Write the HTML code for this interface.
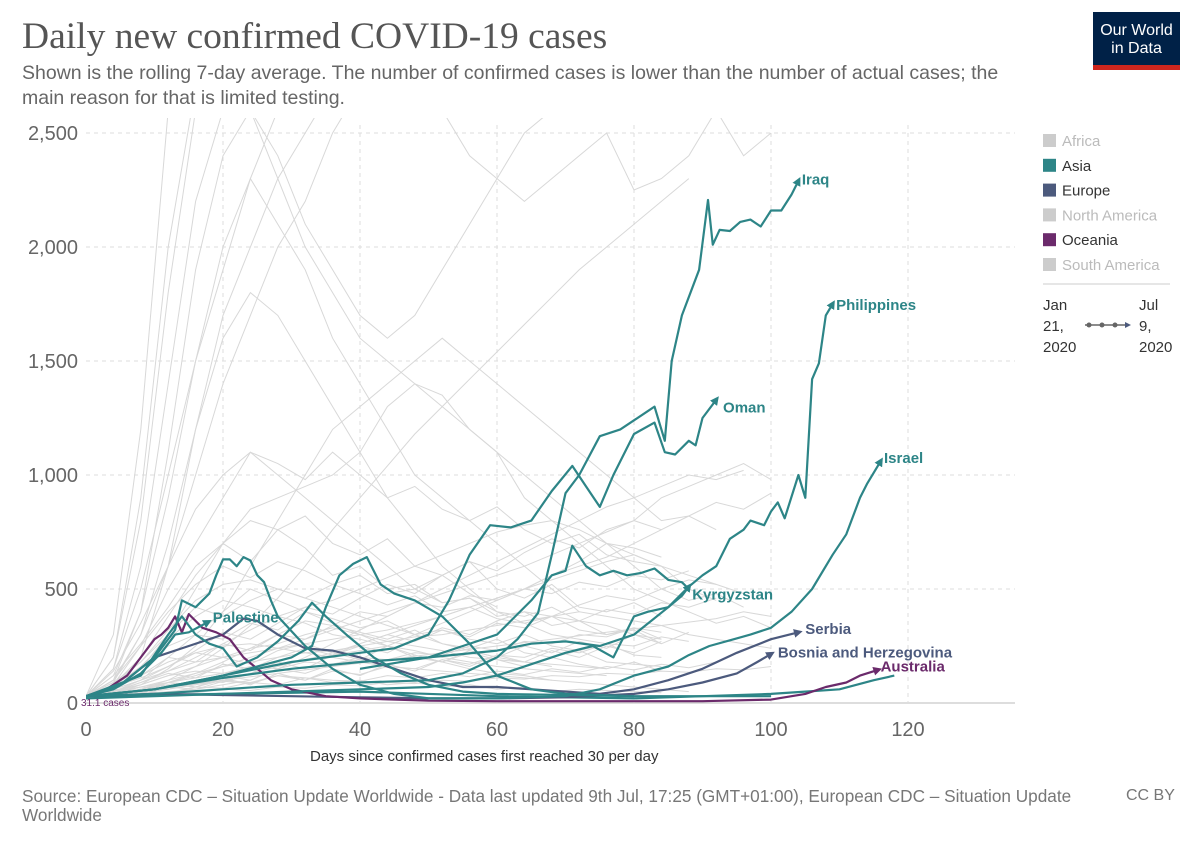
<!DOCTYPE html>
<html><head><meta charset="utf-8"><style>
body{margin:0;background:#fff;font-family:"Liberation Sans",sans-serif;}
#wrap{position:relative;width:1200px;height:847px;overflow:hidden;}
.t{position:absolute;}
</style></head><body>
<div id="wrap">
<div class="t" style="left:22px;top:15px;font-family:'Liberation Serif',serif;font-size:37.5px;color:#555;">Daily new confirmed COVID-19 cases</div>
<div class="t" style="left:22px;top:61px;width:1000px;font-size:19.5px;line-height:25px;color:#666;">Shown is the rolling 7-day average. The number of confirmed cases is lower than the number of actual cases; the main reason for that is limited testing.</div>
<div class="t" style="left:1093px;top:12px;width:87px;height:58px;background:#002147;color:#fff;font-size:16px;line-height:18px;text-align:center;box-sizing:border-box;padding-top:10px;border-bottom:5px solid #ce261e;">Our World<br>in Data</div>
<svg id="chart" width="1200" height="847" style="position:absolute;left:0;top:0"></svg>
<div class="t" style="left:310px;top:748px;font-size:15px;color:#333;">Days since confirmed cases first reached 30 per day</div>
<div class="t" style="left:22px;top:787px;width:1092px;font-size:17.2px;line-height:19px;color:#777;">Source: European CDC – Situation Update Worldwide - Data last updated 9th Jul, 17:25 (GMT+01:00), European CDC – Situation Update Worldwide</div>
<div class="t" style="left:1126px;top:787px;font-size:16px;color:#777;">CC BY</div>
</div>
<script>
const yTicks=[0,500,1000,1500,2000,2500];
const yTickLabels=["0","500","1,000","1,500","2,000","2,500"];
const xTicks=[0,20,40,60,80,100,120];
const legendNames=["Africa","Asia","Europe","North America","Oceania","South America"];
const legendColors=["#ccc","#2d8587","#4c5a7d","#ccc","#6b2a6b","#ccc"];
const legendText=["#bbb","#333","#333","#bbb","#333","#bbb"];

const iraqDays=[0,10,20,30,40,50,55,60,63,66,68,70,72,75,78,80,82,83,84.5,85.5,87,89.5,90.8,91.5,92.5,94,95.5,97,98.5,100,101.5,103,104];
const iraqVals=[30,40,60,80,90,100,130,200,280,395,650,920,1000,1170,1200,1240,1280,1300,1150,1500,1700,1900,2206,2010,2075,2070,2110,2120,2090,2160,2160,2230,2290];
const omanDays=[0,10,20,30,40,45,50,53,56,59,62,65,68,71,73,75,77,80,83,84.5,86,88,89,90,92];
const omanVals=[30,60,120,180,220,240,300,450,650,780,770,800,930,1040,950,860,1000,1180,1230,1100,1090,1150,1130,1250,1330];
const philDays=[0,10,20,30,40,50,60,65,70,75,80,85,88,90,92,94,96,97,99,100,101,102,104,105,106,107,108,109];
const philVals=[30,60,110,150,180,200,230,260,270,250,300,420,510,560,600,720,760,800,780,840,880,810,1000,900,1420,1490,1700,1750];
const israelDays=[0,5,10,13,14,16,18,19,20,21,22,23,24,25,26,27,28,32,36,40,45,50,60,70,75,80,85,88,91,94,97,100,103,106,109,111,113,114,116];
const israelVals=[30,80,200,320,450,420,480,560,630,630,600,640,625,560,530,450,380,250,150,80,40,20,20,30,60,120,160,210,250,275,300,330,400,500,650,740,900,960,1060];
const kyrDays=[0,10,20,30,40,50,55,60,65,70,74,77,80,82,85,87,88];
const kyrVals=[20,30,40,50,60,70,90,120,170,220,250,200,380,400,420,470,510];
const kyr2Days=[40,50,55,60,65,68,70,71,73,75,77,79,81,83,85,87,88];
const kyr2Vals=[150,200,250,300,450,560,580,690,600,560,580,560,570,590,540,530,500];
const palDays=[0,4,8,11,13,15,17.8];
const palVals=[30,60,130,220,300,310,355];
const teal1Days=[0,10,20,30,33,35,37,39,41,43,45,48,52,56,60,65,70,80,90,100];
const teal1Vals=[30,60,120,200,250,420,560,610,640,520,480,450,380,260,120,60,40,30,30,30];
const teal2Days=[0,8,12,14,16,18,20,22,25,28,31,33,35,38,42,46,50,55,60,70,80];
const teal2Vals=[30,120,300,380,300,260,240,160,200,270,360,440,380,300,200,130,80,50,40,35,30];
const serbiaDays=[0,5,10,15,20,23,25,28,32,36,40,45,50,55,60,65,70,75,80,85,90,95,100,104];
const serbiaVals=[30,80,200,250,300,370,360,300,240,230,200,150,100,70,70,60,50,40,60,100,150,220,280,310];
const bosniaDays=[0,10,20,30,40,50,60,70,80,85,90,95,98,100];
const bosniaVals=[30,40,35,30,25,20,20,25,40,60,90,130,180,215];
const austDays=[0,3,6,8,10,11,12,13,14,15,17,19,21,23,25,27,30,35,40,50,60,70,80,90,100,105,108,111,113,115.6];
const austVals=[30,60,120,200,280,300,330,380,310,390,330,310,280,200,150,100,60,30,20,10,8,8,8,8,15,40,70,90,120,145];
const teal3Days=[0,20,40,60,80,90,100,105,110,115,118];
const teal3Vals=[30,40,50,30,20,30,40,50,60,100,120];

const greyStep=4;
const g1=[30,300,1200,2600];
const g2=[30,200,900,2000,2700];
const g3=[30,150,600,1400,2200,2600];
const g4=[30,120,400,900,1500,1900,2300,2600];
const g5=[30,100,300,600,1000,1400,1700,2000,2200,2500,2700];
const g6=[30,80,250,500,700,900,1100,1000,900,800,700,600,500,560,480,420];
const g7=[30,60,150,300,500,700,850,900,950,1000,1100,1300,1400,1350,1200,1100,900,800,700,600,500,450,400,350,380,330];
const g8=[30,50,100,200,300,400,500,450,400,350,300,250,200,180,150,130,120,100];
const g9=[30,200,800,1800,2600,2800,2600,2300,2000,1800,1600,1500,1400,1300,1200,1100,1000,900,800,700,650,600,500,450];
const g10=[30,100,400,1100,1900,2400,2600,2400,2100,1900,1700,1600,1700,1900,2100,2300,2500,2600,2600,2650,2700,2700,2750,2800,2900,2950,3000,3000,3000,3000,3000,3000];
const g11=[30,60,200,600,1200,1700,2000,2300,2500,2700,2800,2900,2800,2600,2400,2300,2200,2300,2400,2500,2250,2300,2400,2600,2400,2500];
const g12=[30,40,80,150,250,400,600,800,1000,1200,1300,1400,1500,1600,1500,1400,1300,1200,1100,1000,900,800,820,760];
const g13=[30,50,90,140,200,260,320,380,420,450,500,550,600,650,700,750,780,800,760,700,600,500,450,480,420];
const g14=[30,40,60,90,120,160,200,240,280,320,360,400,440,480,520,560,600,650,700,750,800,900,950,1000,1050,980];
const g15=[30,60,120,180,220,250,260,240,220,200,180,160,150,140,130,120,110,100,90,80,70,60,50];
const g16=[30,45,70,100,130,160,180,200,220,230,250,270,290,300,320,340,360,380,400,380,360,340,300,280,260,240];
const g17=[30,35,45,60,80,100,130,160,190,220,260,300,340,380,420,460,500,540,580,620,650,600,560,520,480];
const g18=[30,70,160,280,380,450,420,380,350,300,280,250,230,200,180,160,150,140,130,120];
const g19=[30,45,40,70,60,95,85,120,100,140,125,160,150,190,170,210,200,240,220,260,250,290,270];
const g20=[30,50,80,120,160,200,240,260,300,330,300,270,250,230,200,190,180,170,160,150];
const g21=[30,50,40,90,80,120,100,150,130,170,190,160,210,180,230,200,250,220,270,240,300,260,310];
const g22=[30,60,100,140,180,200,220,240,260,280,300,320,350,380,420,460,500,560,600,640,700,760,820,880,850,920];
const g23=[30,90,300,700,1200,1600,1800,1700,1500,1300,1100,900,750,600,500,400,350,300,280,260];
const g24=[30,150,500,1000,1500,2000,2300,2100,1900,1600,1400,1200,1000,900,800,700,600,500,400];
const g25=[30,50,70,90,110,130,150,170,190,210,230,250,300,350,400,450,500,560,620,700,680,640];
const g26=[30,60,50,90,70,110,80,130,100,150,120,170,140,190,160,210,180,230,200,250,220,270];
const g27=[30,40,55,70,85,100,115,130,145,160,175,190,205,220,235,250,265,280,295,310,325,340,355,370,400,380];
const g28=[30,80,180,320,450,520,540,500,460,420,380,340,300,260,230,200,180,160];
const g29=[30,30,40,50,60,80,100,150,200,260,320,380,440,500,560,620,680,740,800,860,900,950,1000,980,1020];
const g30=[30,40,60,100,160,240,340,460,600,760,900,1040,1180,1300,1420,1540,1660,1780,1900,2000,2100,2200,2300];
const g31=[30,80,150,250,300,280,350,320,400,370,330,360,300,320,280,260,300,250,230,260,210,200];
const g32=[30,60,120,200,180,260,230,300,280,340,310,280,320,260,240,280,220,200,230,180,170,160];
const g33=[30,70,110,160,220,200,170,230,260,220,190,250,210,180,220,190,160,200,170,150,180,140];
const g34=[30,50,90,130,110,170,150,200,240,210,260,300,270,320,290,350,330,380,360,410,390,440,420,460];
const g35=[30,40,70,60,100,90,130,180,150,210,250,220,280,330,300,360,400,380,430,470,450,500,540,520];
const g36=[30,90,180,300,420,380,450,500,460,520,480,430,470,400,420,370,350,380,320,300,330,280];
const g37=[30,100,250,400,520,600,550,620,580,520,560,480,500,440,460,400,380,420,360,340,300,280];
const g38=[30,35,50,45,70,65,90,80,110,100,95,120,110,130,115,140,125,150,135,160,145,170,155,180];
const g39=[30,55,80,120,140,130,160,150,180,170,200,190,220,210,250,230,270,260,300,290,330,310];
const g40=[30,40,60,80,70,100,90,120,110,90,100,80,90,70,80,60,70,50,60,55,50,45];
const g41=[30,120,260,420,600,700,800,760,820,700,650,720,600,560,620,500,460,520,420,400,440,380];
const g42=[30,140,350,600,850,1000,1100,1050,980,1100,1000,900,950,850,800,860,760,700,740,650,620,600];
const g43=[30,45,60,90,130,180,240,300,360,340,400,380,440,420,470,450,500,480,530,510,560,540,580];
const g44=[30,60,100,160,230,310,280,350,420,390,460,520,480,560,620,580,660,720,680,760,800,760];
const g45=[30,35,40,50,45,60,55,70,65,80,75,90,85,100,95,110,105,120,115,130,125,140,135,150,145,160];
const g46=[30,80,200,380,560,700,620,760,680,560,600,500,520,440,460,380,400,340,360,300,320,260];
const greySeries=[g1,g2,g3,g4,g5,g6,g7,g8,g9,g10,g11,g12,g13,g14,g15,g16,g17,g18,g19,g20,g21,g22,g23,g24,g25,g26,g27,g28,g29,g30,g31,g32,g33,g34,g35,g36,g37,g38,g39,g40,g41,g42,g43,g44,g45,g46];

const X0=86, PXD=6.85, Y0=703, PXV=0.228;
const xs=d=>X0+d*PXD;
const ys=v=>Y0-v*PXV;
const NS="http://www.w3.org/2000/svg";
const svg=document.getElementById('chart');
function mk(tag,attrs,parent){const e=document.createElementNS(NS,tag);for(const k in attrs)e.setAttribute(k,attrs[k]);(parent||svg).appendChild(e);return e;}

const defs=mk('defs',{});
const cp=mk('clipPath',{id:'plotclip'},defs);
mk('rect',{x:86,y:118,width:930,height:600},cp);
const arrowColors={teal:"#2d8587",slate:"#4c5a7d",purple:"#6b2a6b",grey:"#ccc"};
for(const k in arrowColors){const m=mk('marker',{id:'arr-'+k,viewBox:'0 0 10 10',refX:'5',refY:'5',markerWidth:'4',markerHeight:'4',orient:'auto'},defs);mk('path',{d:'M0,0 L10,5 L0,10 z',fill:arrowColors[k]},m);}

yTicks.forEach((v,i)=>{
  const g=mk('line',{x1:86,x2:1015,y1:ys(v),y2:ys(v),stroke:v===0?'#bbb':'#ddd','stroke-dasharray':v===0?'':'4,4'});
  
  
  const t=mk('text',{x:78,y:ys(v)+7,'text-anchor':'end','font-size':20,fill:'#666'});
  t.textContent=yTickLabels[i];
  
  
});
xTicks.forEach(d=>{
  if(d>0){const g=mk('line',{x1:xs(d),x2:xs(d),y1:125,y2:703,stroke:'#ddd','stroke-dasharray':'4,4'});
  
  }
  const t=mk('text',{x:xs(d),y:736,'text-anchor':'middle','font-size':20,fill:'#666'});
  t.textContent=String(d);
  
  
});

const plot=mk('g',{'clip-path':'url(#plotclip)'});
greySeries.forEach(s=>{
  const pts=s.map((v,i)=>xs(i*greyStep).toFixed(1)+','+ys(v).toFixed(1)).join(' ');
  const p=mk('polyline',{points:pts,fill:'none',stroke:'#d8d8d8','stroke-width':1},plot);
  
  
});
function series(days,vals,color,key,name,arrow){
  const pts=days.map((d,i)=>xs(d).toFixed(1)+','+ys(vals[i]).toFixed(1)).join(' ');
  const a={points:pts,fill:'none',stroke:color,'stroke-width':2.2,'stroke-linejoin':'round'};
  if(arrow)a['marker-end']='url(#arr-'+key+')';
  const p=mk('polyline',a,plot);
  
  
}
const T="#2d8587",S="#4c5a7d",P="#6b2a6b";
series(teal3Days,teal3Vals,T,'teal','asia-line-low',false);
series(bosniaDays,bosniaVals,S,'slate','bosnia-line',true);
series(serbiaDays,serbiaVals,S,'slate','serbia-line',true);
series(austDays,austVals,P,'purple','australia-line',true);
series(teal1Days,teal1Vals,T,'teal','asia-line-a',false);
series(teal2Days,teal2Vals,T,'teal','asia-line-b',false);
series(palDays,palVals,T,'teal','palestine-line',true);
series(kyr2Days,kyr2Vals,T,'teal','asia-line-c',false);
series(kyrDays,kyrVals,T,'teal','kyrgyzstan-line',true);
series(israelDays,israelVals,T,'teal','israel-line',true);
series(philDays,philVals,T,'teal','philippines-line',true);
series(omanDays,omanVals,T,'teal','oman-line',true);
series(iraqDays,iraqVals,T,'teal','iraq-line',true);

const labels=[["Iraq",104.5,2300,T,'iraq-label'],["Philippines",109.5,1750,T,'philippines-label'],["Oman",93,1300,T,'oman-label'],["Israel",116.5,1080,T,'israel-label'],["Kyrgyzstan",88.5,480,T,'kyrgyzstan-label'],["Palestine",18.5,380,T,'palestine-label'],["Serbia",105,330,S,'serbia-label'],["Bosnia and Herzegovina",101,225,S,'bosnia-label'],["Australia",116,165,P,'australia-label']];
labels.forEach(l=>{
  const t=mk('text',{x:xs(l[1]),y:ys(l[2])+6,'font-size':15,'font-weight':'bold',fill:l[3]});
  t.textContent=l[0];
  
  
});
const c=mk('text',{x:81,y:706,'font-size':10,fill:P});
c.textContent="31.1 cases";



legendNames.forEach((n,i)=>{
  const y=141+i*24.8;
  const r=mk('rect',{x:1043,y:y-7,width:13,height:13,fill:legendColors[i]});
  
  
  const t=mk('text',{x:1062,y:y+5,'font-size':15,fill:legendText[i]});
  t.textContent=n;
  
  
});
const sep=mk('line',{x1:1043,x2:1170,y1:284,y2:284,stroke:'#ccc'});


[["Jan",1043,310],["21,",1043,331],["2020",1043,352],["Jul",1139,310],["9,",1139,331],["2020",1139,352]].forEach(a=>{
  const t=mk('text',{x:a[1],y:a[2],'font-size':15,fill:'#333'});
  t.textContent=a[0];
  
  
});
const tl=mk('line',{x1:1085,x2:1128,y1:325,y2:325,stroke:'#666','stroke-width':1.5,'marker-end':'url(#arr-slate)'});


[1089,1102,1115].forEach(x=>{const d=mk('circle',{cx:x,cy:325,r:2.5,fill:'#666'});

});
</script>
</body></html>
